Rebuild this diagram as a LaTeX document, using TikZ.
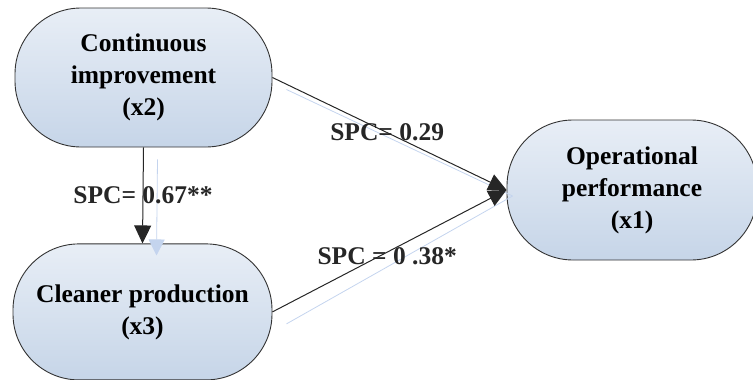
\documentclass[tikz,border=0pt]{standalone}
\usepackage{fontspec}
\setmainfont{Liberation Serif}
\usepackage{xcolor}
\usepackage{tikz}
\usetikzlibrary{arrows.meta, positioning, calc}

\definecolor{boxtop}{RGB}{232,238,246}
\definecolor{boxbot}{RGB}{198,213,232}
\definecolor{shadowblue}{RGB}{196,212,238}

\begin{document}
\begin{tikzpicture}[
    x=1pt, y=-1pt,
    varnode/.style={rectangle, draw=black!80, line width=0.9pt, top color=boxtop, bottom color=boxbot,
        rounded corners=66pt, align=center, inner sep=0pt, font=\fontsize{25.5}{32}\selectfont\bfseries},
    arr/.style={-{Triangle[length=18pt, width=17pt]}, line width=1pt, color=black!85},
    ghost/.style={-{Triangle[length=16pt, width=16pt]}, line width=0.8pt, color=shadowblue},
    lbl/.style={font=\fontsize{25.5}{30}\selectfont\bfseries, inner sep=0pt}
]
\useasboundingbox (0,0) rectangle (753,380);

\node[varnode, minimum width=257pt, minimum height=139pt] (x2) at (143.5,77.5) {Continuous\\improvement\\(x2)};
\node[varnode, minimum width=259pt, minimum height=136pt, below=96pt of x2.south, anchor=north, xshift=-1pt] (x3) {Cleaner production\\(x3)};
\node[varnode, minimum width=250pt, minimum height=140pt] (x1) at (632,190) {Operational\\performance\\(x1)};

% light shadow lines
\draw[ghost] ([shift={(14,12)}]x2.south) -- ([shift={(14,12)}]x3.north);
\draw[ghost, -] ([shift={(14,12)}]x2.east) -- ([shift={(6,6)}]x1.west);
\draw[ghost, -] ([shift={(14,12)}]x3.east) -- ([shift={(6,6)}]x1.west);

\draw[arr] (x2.south) -- node[lbl, pos=0.5] {SPC= 0.67**} (x3.north);
\draw[arr] (x2.east) -- node[lbl, pos=0.49] {SPC= 0.29} (x1.west);
\draw[arr] (x3.east) -- node[lbl, pos=0.49, yshift=-4pt] {SPC = 0 .38*} (x1.west);

\end{tikzpicture}
\end{document}
